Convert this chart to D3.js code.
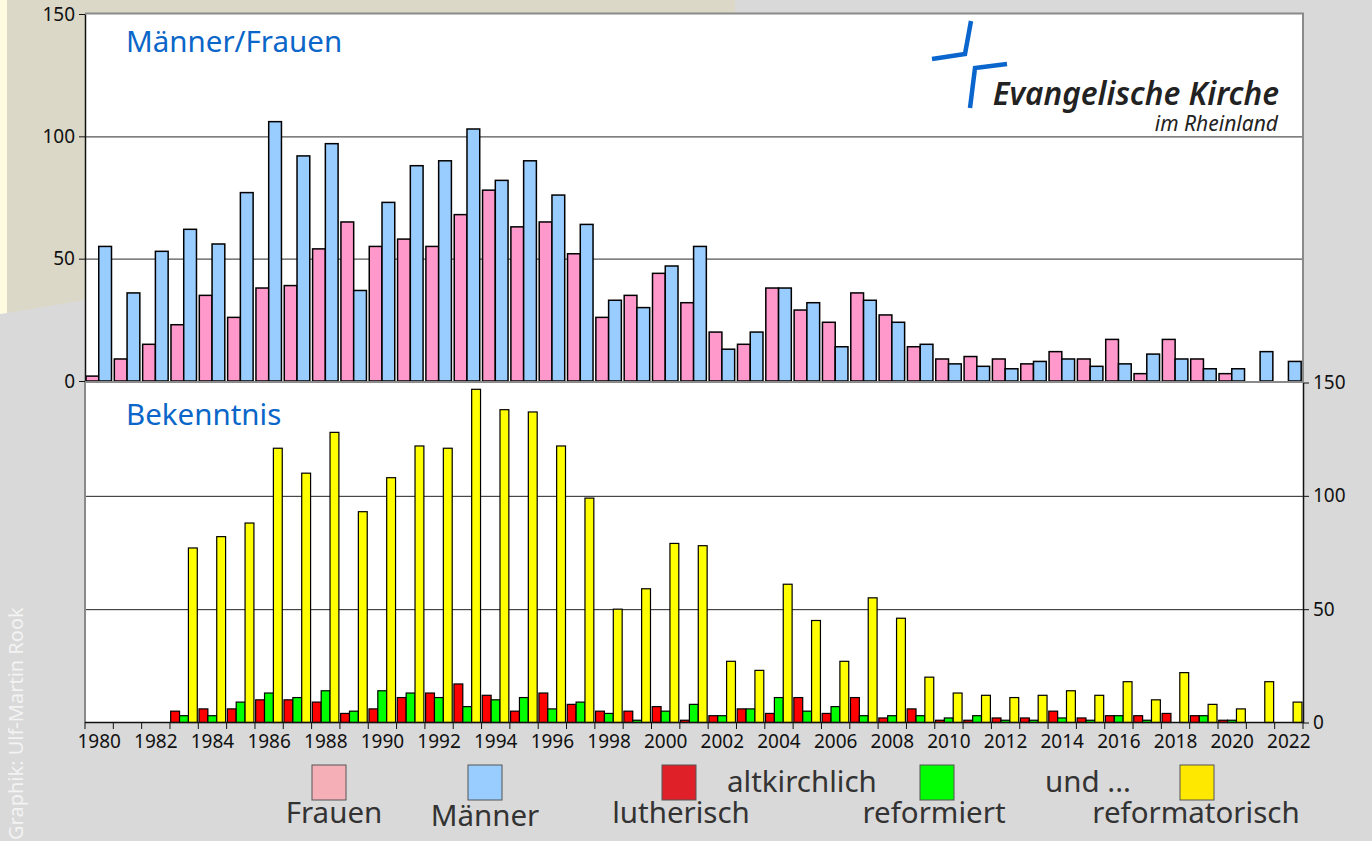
<!DOCTYPE html>
<html>
<head>
<meta charset="utf-8">
<script src="https://cdn.jsdelivr.net/npm/d3@7"></script>
<style>
  body { margin: 0; background: #d9d9d9; }
  svg { display: block; font-family: "Noto Sans", "Open Sans", sans-serif; }
</style>
</head>
<body>
<svg id="chart" width="1372" height="841"></svg>
<script>
// Jahre 1980 - 2022
const years = [1980,1981,1982,1983,1984,1985,1986,1987,1988,1989,1990,1991,1992,1993,1994,1995,1996,1997,1998,1999,
  2000,2001,2002,2003,2004,2005,2006,2007,2008,2009,2010,2011,2012,2013,2014,2015,2016,2017,2018,2019,2020,2021,2022]

// Männer/Frauen
const frauen  = [2,9,15,23,35,26,38,39,54,65,55,58,55,68,78,63,65,52,26,35,44,32,20,15,38,29,24,36,27,14,9,10,9,7,12,9,17,3,17,9,3,0,0]
const maenner = [55,36,53,62,56,77,106,92,97,37,73,88,90,103,82,90,76,64,33,30,47,55,13,20,38,32,14,33,24,15,7,6,5,8,9,6,7,11,9,5,5,12,8]

// Bekenntnis
const lutherisch     = [0,0,0,5,6,6,10,10,9,4,6,11,13,17,12,5,13,8,5,5,7,1,3,6,4,11,4,11,2,6,1,1,2,2,5,2,3,3,4,3,1,0,0]
const reformiert     = [0,0,0,3,3,9,13,11,14,5,14,13,11,7,10,11,6,9,4,1,5,8,3,6,11,5,7,3,3,3,2,3,1,1,2,1,3,1,0,3,1,0,0]
const reformatorisch = [0,0,0,77,82,88,121,110,128,93,108,122,121,147,138,137,122,99,50,59,79,78,27,23,61,45,27,55,46,20,13,12,11,12,14,12,18,10,22,8,6,18,9]

const yTicks = [0, 50, 100, 150]
const xLabels = years.filter(y => y % 2 === 0)

const svg = d3.select('#chart')

// Hintergrund
svg.append('rect').attr('width', 1372).attr('height', 841).attr('fill', '#d9d9d9')
svg.append('polygon').attr('points', '7,0 735,0 735,200 85,300 7,313').attr('fill', '#dcd8c8')
svg.append('polygon').attr('points', '0,0 7,0 7,313 0,314').attr('fill', '#fffbe0')

const x = d3.scaleBand().domain(years).range([85, 1303]).padding(0)
const xTop = d3.scaleBand().domain(['f', 'm']).range([1, 26.5])
const xBot = d3.scaleBand().domain(['l', 'r', 'y']).range([0.7, 27.3])
const yTop = d3.scaleLinear().domain([0, 150]).range([381, 14])
const yBot = d3.scaleLinear().domain([0, 150]).range([722.5, 382.5])

// Plotflächen
svg.append('rect').attr('x', 85).attr('y', 14).attr('width', 1218).attr('height', 367).attr('fill', '#fff')
svg.append('rect').attr('x', 85).attr('y', 382.5).attr('width', 1218).attr('height', 340).attr('fill', '#fff')

// Gitterlinien
svg.append('g').selectAll('line').data([50, 100]).enter().append('line')
  .attr('x1', 85).attr('x2', 1303).attr('y1', d => yTop(d) + 0.5).attr('y2', d => yTop(d) + 0.5)
  .attr('stroke', '#555').attr('stroke-width', 1.2)
svg.append('g').selectAll('line').data([50, 100]).enter().append('line')
  .attr('x1', 85).attr('x2', 1303).attr('y1', d => yBot(d) + 0.5).attr('y2', d => yBot(d) + 0.5)
  .attr('stroke', '#222').attr('stroke-width', 1)

// Rahmen
svg.append('line').attr('x1', 85).attr('x2', 1304).attr('y1', 13.5).attr('y2', 13.5).attr('stroke', '#8a8a8a').attr('stroke-width', 2)
svg.append('line').attr('x1', 1303).attr('x2', 1303).attr('y1', 13).attr('y2', 382).attr('stroke', '#8a8a8a').attr('stroke-width', 2)
svg.append('line').attr('x1', 85).attr('x2', 85).attr('y1', 382).attr('y2', 723).attr('stroke', '#8a8a8a').attr('stroke-width', 2)

// Balken oben
const gTop = svg.append('g').selectAll('g').data(years).enter().append('g')
  .attr('transform', d => `translate(${x(d)},0)`)
gTop.selectAll('rect')
  .data((d, i) => [{k: 'f', v: frauen[i]}, {k: 'm', v: maenner[i]}].filter(e => e.v > 0))
  .enter().append('rect')
  .attr('x', d => xTop(d.k)).attr('width', xTop.bandwidth())
  .attr('y', d => yTop(d.v)).attr('height', d => yTop(0) - yTop(d.v))
  .attr('fill', d => d.k === 'f' ? '#ff99cc' : '#99ccff')
  .attr('stroke', '#000').attr('stroke-width', 1.5)

// Balken unten
const colBot = {l: '#ff0000', r: '#00ff00', y: '#ffff00'}
const gBot = svg.append('g').selectAll('g').data(years).enter().append('g')
  .attr('transform', d => `translate(${x(d)},0)`)
gBot.selectAll('rect')
  .data((d, i) => [{k: 'l', v: lutherisch[i]}, {k: 'r', v: reformiert[i]}, {k: 'y', v: reformatorisch[i]}].filter(e => e.v > 0))
  .enter().append('rect')
  .attr('x', d => xBot(d.k)).attr('width', xBot.bandwidth())
  .attr('y', d => yBot(d.v)).attr('height', d => yBot(0) - yBot(d.v))
  .attr('fill', d => colBot[d.k])
  .attr('stroke', '#000').attr('stroke-width', 1.2)

// Achsen
const styleAxis = g => {
  g.select('.domain').attr('stroke', '#111').attr('stroke-width', 1.5)
  g.selectAll('.tick line').attr('stroke', '#111')
  g.selectAll('.tick text').attr('fill', '#111').style('font-size', '19px').style('font-family', '"Noto Sans", sans-serif')
}
svg.append('g').attr('transform', 'translate(85,0)')
  .call(d3.axisLeft(yTop).tickValues(yTicks).tickSize(6).tickSizeOuter(0).tickPadding(4))
  .call(styleAxis)
svg.append('g').attr('transform', 'translate(1303,0)')
  .call(d3.axisRight(yBot).tickValues(yTicks).tickSize(6).tickSizeOuter(0).tickPadding(4))
  .call(styleAxis)

// Trennlinie zwischen den Diagrammen
svg.append('line').attr('x1', 85).attr('x2', 1303).attr('y1', 382).attr('y2', 382).attr('stroke', '#8a8a8a').attr('stroke-width', 2)

const xAxis = svg.append('g').attr('transform', 'translate(0,722.5)')
  .call(d3.axisBottom(x).tickValues(xLabels).tickSize(0).tickPadding(12))
  .call(styleAxis)
xAxis.select('.domain').remove()
svg.append('line').attr('x1', 85).attr('x2', 1303).attr('y1', 722.5).attr('y2', 722.5).attr('stroke', '#111').attr('stroke-width', 1.5)
svg.append('g').selectAll('line').data(years.concat(['end'])).enter().append('line')
  .attr('x1', d => d === 'end' ? 1303 : x(d)).attr('x2', d => d === 'end' ? 1303 : x(d))
  .attr('y1', 722.5).attr('y2', 729).attr('stroke', '#111').attr('stroke-width', 1)

// Titel
svg.append('text').attr('x', 126).attr('y', 52).text('Männer/Frauen')
  .attr('fill', '#0a66c8').style('font-size', '29.5px')
svg.append('text').attr('x', 126).attr('y', 425).text('Bekenntnis')
  .attr('fill', '#0a66c8').style('font-size', '29.5px')

// Logo
const logo = svg.append('g')
logo.append('polyline').attr('points', '971,21 965,54 932,59')
  .attr('fill', 'none').attr('stroke', '#0a66cc').attr('stroke-width', 4.5)
logo.append('polyline').attr('points', '1007,64 975,68 970,108')
  .attr('fill', 'none').attr('stroke', '#0a66cc').attr('stroke-width', 4.5)
logo.append('text').attr('x', 1279).attr('y', 105).attr('text-anchor', 'end').text('Evangelische Kirche')
  .attr('fill', '#222').style('font-size', '31.5px').style('font-style', 'italic').style('font-weight', '600')
logo.append('text').attr('x', 1278).attr('y', 131).attr('text-anchor', 'end').text('im Rheinland')
  .attr('fill', '#222').style('font-size', '21px').style('font-style', 'italic')

// Legende
const legendBoxes = [
  {x: 312, fill: '#f4b0b6'}, {x: 468, fill: '#99ccff'}, {x: 662, fill: '#e02028'},
  {x: 920, fill: '#00ff00'}, {x: 1180, fill: '#ffe800'}
]
svg.append('g').selectAll('rect').data(legendBoxes).enter().append('rect')
  .attr('x', d => d.x).attr('y', 765).attr('width', 34).attr('height', 35)
  .attr('fill', d => d.fill).attr('stroke', '#555').attr('stroke-width', 1)
const legendTexts = [
  {t: 'Frauen', x: 334, y: 823, a: 'middle'},
  {t: 'Männer', x: 485, y: 826, a: 'middle'},
  {t: 'lutherisch', x: 681, y: 823, a: 'middle'},
  {t: 'altkirchlich', x: 727, y: 792, a: 'start'},
  {t: 'reformiert', x: 934, y: 823, a: 'middle'},
  {t: 'und ...', x: 1045, y: 792, a: 'start'},
  {t: 'reformatorisch', x: 1196, y: 823, a: 'middle'}
]
svg.append('g').selectAll('text').data(legendTexts).enter().append('text')
  .attr('x', d => d.x).attr('y', d => d.y).attr('text-anchor', d => d.a)
  .text(d => d.t).attr('fill', '#333').style('font-size', '29.5px')

// Urheber
svg.append('text').attr('transform', 'translate(23,840) rotate(-90)')
  .text('Graphik: Ulf-Martin Rook').attr('fill', '#f3f3f3').style('font-size', '20px')
</script>
</body>
</html>
